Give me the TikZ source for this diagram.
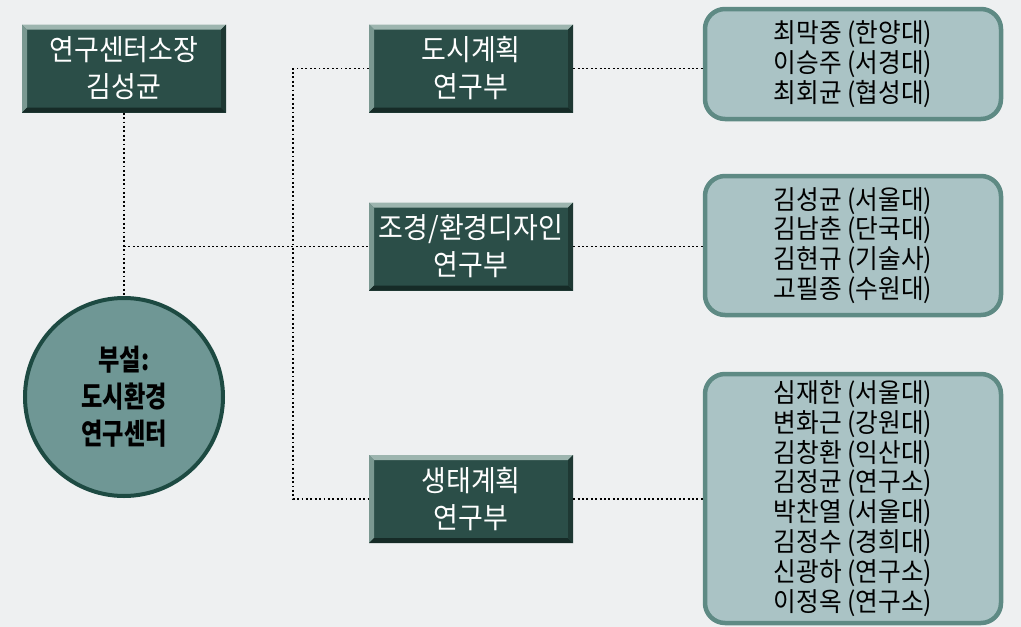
\documentclass[tikz,border=0pt]{standalone}
\usepackage{fontspec}
\setmainfont{Noto Sans CJK KR}
\newfontfamily\circfont[FakeStretch=0.8]{Noto Sans CJK KR}
\newfontfamily\narrowfont[FakeStretch=0.93]{Noto Sans CJK KR}
\definecolor{bgc}{HTML}{EEF0F1}
\definecolor{darkbox}{HTML}{2B4E48}
\definecolor{bvlight}{HTML}{9DB5AF}
\definecolor{bvlight2}{HTML}{7A9891}
\definecolor{bvdark}{HTML}{162B27}
\definecolor{bvdark2}{HTML}{1E3833}
\definecolor{circfill}{HTML}{6F9795}
\definecolor{circline}{HTML}{1D4A42}
\definecolor{rfill}{HTML}{AAC3C5}
\definecolor{rline}{HTML}{5E8A84}
\tikzset{
  deptbox/.style={rectangle, fill=darkbox, minimum width=204pt, minimum height=88pt, inner sep=0pt,
    align=center, text=white, font=\narrowfont\fontsize{29}{37}\selectfont,
    path picture={
      \coordinate (nw) at (path picture bounding box.north west);
      \coordinate (ne) at (path picture bounding box.north east);
      \coordinate (sw) at (path picture bounding box.south west);
      \coordinate (se) at (path picture bounding box.south east);
      \fill[bvlight] (nw) -- (ne) -- ([xshift=-5pt,yshift=-5pt]ne) -- ([xshift=5pt,yshift=-5pt]nw) -- cycle;
      \fill[bvlight2] (nw) -- ([xshift=5pt,yshift=-5pt]nw) -- ([xshift=5pt,yshift=5pt]sw) -- (sw) -- cycle;
      \fill[bvdark] (sw) -- (se) -- ([xshift=-5pt,yshift=5pt]se) -- ([xshift=5pt,yshift=5pt]sw) -- cycle;
      \fill[bvdark2] (ne) -- (se) -- ([xshift=-5pt,yshift=5pt]se) -- ([xshift=-5pt,yshift=-5pt]ne) -- cycle;
    }},
  centre/.style={circle, fill=circfill, draw=circline, line width=4pt, minimum size=198pt,
    inner sep=0pt, align=center, font=\circfont\bfseries\fontsize{29}{37}\selectfont},
  member/.style={rectangle, rounded corners=20pt, fill=rfill, draw=rline, line width=4.5pt,
    minimum width=296pt, inner sep=0pt, align=center, font=\narrowfont\fontsize{26.5}{29.8}\selectfont},
  link/.style={line width=1.9pt, dash pattern=on 1.9pt off 2.5pt, black}
}
\begin{document}
\begin{tikzpicture}[x=1pt,y=-1pt]
\useasboundingbox[fill=bgc] (0,0) rectangle (1021,627);

\node[deptbox] (b1) at (124,68.5) {연구센터소장\\김성균};
\node[deptbox] (b2) at (471,68.5) {도시계획\\연구부};
\node[deptbox] (b3) at (471,246.5) {조경/환경디자인\\연구부};
\node[deptbox] (b4) at (471,499) {생태계획\\연구부};

\node[centre] (c) at (124,397) {부설:\\도시환경\\연구센터};

\node[member, minimum height=110pt] (r1) at (853,64) {최막중 (한양대)\\이승주 (서경대)\\최회균 (협성대)};
\node[member, minimum height=139pt] (r2) at (853,245.5) {김성균 (서울대)\\김남춘 (단국대)\\김현규 (기술사)\\고필종 (수원대)};
\node[member, minimum height=249pt] (r3) at (853,498.5) {심재한 (서울대)\\변화근 (강원대)\\김창환 (익산대)\\김정균 (연구소)\\박찬열 (서울대)\\김정수 (경희대)\\신광하 (연구소)\\이정옥 (연구소)};

\coordinate (j1) at (b1.south |- b3.west);
\coordinate (tx) at (293,300);

\draw[link] (b1.south) -- (c.north);
\draw[link] (j1) -- (b3.west);
\draw[link] (b2.west) -- (tx |- b2.west) -- (tx |- b4.west) -- (b4.west);
\draw[link] (b2.east) -- (b2.east -| r1.west);
\draw[link] (b3.east) -- (b3.east -| r2.west);
\draw[link] (b4.east) -- (b4.east -| r3.west);
\end{tikzpicture}
\end{document}
